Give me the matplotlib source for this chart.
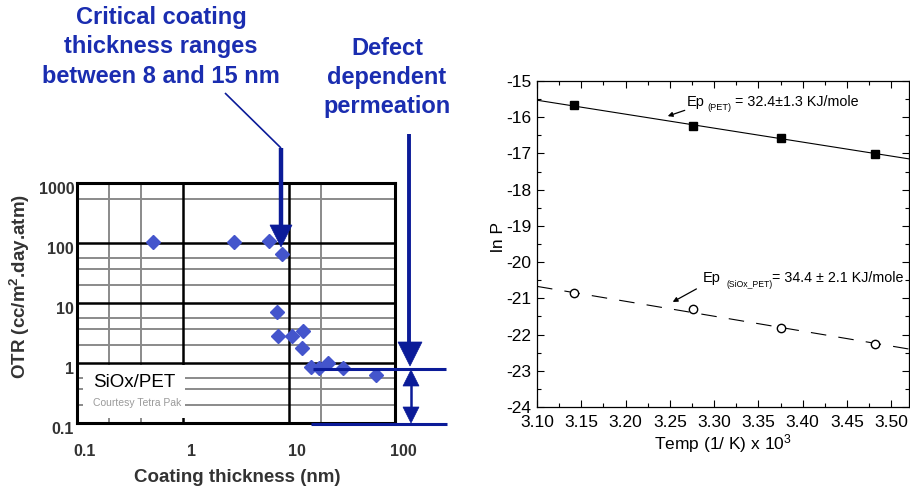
#!/usr/bin/env python3
"""OTR vs coating thickness (links) und Arrhenius-Plot ln P (rechts)."""

import matplotlib
matplotlib.use("Agg")
import matplotlib.pyplot as plt
import matplotlib.transforms as mtransforms
from matplotlib.lines import Line2D
from matplotlib.patches import Polygon, Rectangle
from matplotlib.ticker import MultipleLocator, NullLocator

plt.rcParams["font.family"] = ["Liberation Sans", "DejaVu Sans"]
plt.rcParams["axes.unicode_minus"] = False
plt.rcParams["mathtext.fontset"] = "custom"
plt.rcParams["mathtext.rm"] = "Liberation Sans"
plt.rcParams["mathtext.it"] = "Liberation Sans:italic"
plt.rcParams["mathtext.bf"] = "Liberation Sans:bold"

# ── data ──────────────────────────────────────────────────────────────────────
thickness_nm = [0.52, 3.0, 6.5, 8.5, 7.7, 7.8, 10.7, 13.5, 13.3, 16.1, 19.2, 23.3, 32, 66]
otr = [105, 105, 107, 65, 7.2, 2.8, 2.8, 3.4, 1.8, 0.87, 0.84, 1.0, 0.84, 0.63]

otr_xticks = [0.1, 1, 10, 100]
otr_xlabels = ["0.1", "1", "10", "100"]
otr_yticks = [0.1, 1, 10, 100, 1000]
otr_ylabels = ["0.1", "1", "10", "100", "1000"]
grid_major_x = [1, 10]
grid_major_y = [1, 10, 100]
grid_minor_x = [0.2, 0.4, 20]
grid_minor_y = [0.2, 0.37, 0.56, 2, 3.7, 5.6, 20, 37, 56, 550]

inv_temp = [3.142, 3.276, 3.376, 3.482]
lnp_pet = [-15.67, -16.25, -16.58, -17.02]
lnp_siox = [-20.86, -21.30, -21.82, -22.26]
fit_x = [3.10, 3.52]
fit_pet = [-15.53, -17.15]
fit_siox = [-20.67, -22.40]

temp_xticks = [3.10, 3.15, 3.20, 3.25, 3.30, 3.35, 3.40, 3.45, 3.50]

# ── styles ────────────────────────────────────────────────────────────────────
W, H = 910, 492
NAVY = "#0b1b98"
TEXT_BLUE = "#1a2db0"
DIAMOND = "#4455cc"
DARK = "#333333"


def fx(x):
    return x / W


def fy(y):
    return 1 - y / H


fig = plt.figure(figsize=(W / 100, H / 100), dpi=100)

# ── linker Plot: OTR ──────────────────────────────────────────────────────────
ax1 = fig.add_axes([fx(77), fy(423), 318 / W, 240 / H])
ax1.set_xscale("log")
ax1.set_yscale("log")
ax1.set_xlim(0.1, 100)
ax1.set_ylim(0.1, 1000)

for v in grid_minor_x:
    ax1.axvline(v, color="#8a8a8a", lw=1.4, zorder=1)
for v in grid_minor_y:
    ax1.axhline(v, color="#8a8a8a", lw=1.4, zorder=1)
for v in grid_major_x:
    ax1.axvline(v, color="black", lw=1.8, zorder=1.5)
for v in grid_major_y:
    ax1.axhline(v, color="black", lw=1.8, zorder=1.5)

ax1.add_patch(Rectangle((0.019, 0.02), 0.32, 0.22, transform=ax1.transAxes,
                        facecolor="white", edgecolor="none", zorder=2))
ax1.text(0.05, 0.17, "SiOx/PET", transform=ax1.transAxes, fontsize=13.5,
         va="center", ha="left", zorder=3)
ax1.text(0.05, 0.085, "Courtesy Tetra Pak", transform=ax1.transAxes, fontsize=7.5,
         color="#9a9a9a", va="center", ha="left", zorder=3)

ax1.plot(thickness_nm, otr, "D", color=DIAMOND, ms=7, mec=DIAMOND, zorder=4)

ax1.set_xticks(otr_xticks)
ax1.set_xticklabels(otr_xlabels)
ax1.set_yticks(otr_yticks)
ax1.set_yticklabels(otr_ylabels)
ax1.xaxis.set_minor_locator(NullLocator())
ax1.yaxis.set_minor_locator(NullLocator())
ax1.tick_params(length=0, labelsize=11.5, labelcolor=DARK)
ax1.tick_params(axis="x", pad=15)
ax1.tick_params(axis="y", pad=2)
dx = mtransforms.ScaledTranslation(0.08, 0, fig.dpi_scale_trans)
dy = mtransforms.ScaledTranslation(0, -0.05, fig.dpi_scale_trans)
for lab in ax1.get_xticklabels():
    lab.set_fontweight("bold")
    lab.set_transform(lab.get_transform() + dx)
for lab in ax1.get_yticklabels():
    lab.set_fontweight("bold")
    lab.set_transform(lab.get_transform() + dy)
for sp in ax1.spines.values():
    sp.set_linewidth(2.2)
    sp.set_zorder(5)

fig.text(fx(20), fy(286), r"OTR (cc/m$^\mathbf{2}$.day.atm)", rotation=90,
         fontsize=13.5, fontweight="bold", color=DARK, ha="center", va="center")
fig.text(fx(237), fy(477), "Coating thickness (nm)", fontsize=13.5,
         fontweight="bold", color=DARK, ha="center", va="center")

# blaue Beschriftungen
fig.text(fx(161), fy(47), "Critical coating\nthickness ranges\nbetween 8 and 15 nm",
         fontsize=17, fontweight="bold", color=TEXT_BLUE, ha="center", va="center",
         linespacing=1.34)
fig.text(fx(387), fy(77.5), "Defect\ndependent\npermeation",
         fontsize=17, fontweight="bold", color=TEXT_BLUE, ha="center", va="center",
         linespacing=1.34)


def fig_line(xs, ys, lw):
    fig.add_artist(Line2D([fx(x) for x in xs], [fy(y) for y in ys],
                          transform=fig.transFigure, color=NAVY, lw=lw,
                          solid_capstyle="butt"))


def fig_head(tip_x, tip_y, base_y, half_w):
    pts = [(fx(tip_x), fy(tip_y)), (fx(tip_x - half_w), fy(base_y)),
           (fx(tip_x + half_w), fy(base_y))]
    fig.add_artist(Polygon(pts, closed=True, transform=fig.transFigure,
                           facecolor=NAVY, edgecolor=NAVY, lw=0.5))


# Pfeil kritische Dicke
fig_line([225, 281], [93, 148], 1.2)
fig_line([281, 281], [148, 230], 3.2)
fig_head(281, 247, 225, 11)

# Pfeil Defekt-Permeation
fig_line([409, 409], [134, 345], 2.8)
fig_head(410, 366, 342, 12)
fig_line([313, 446], [369, 369], 2.2)
fig_line([311, 447], [424, 424], 2.2)
fig_line([411, 411], [380, 412], 1.8)
fig_head(411, 370, 386, 8)
fig_head(411, 423, 407, 8)

# ── rechter Plot: Arrhenius ───────────────────────────────────────────────────
ax2 = fig.add_axes([fx(537), fy(407), 372 / W, 326 / H])
ax2.plot(fit_x, fit_pet, color="black", lw=0.8)
ax2.plot(inv_temp, lnp_pet, "s", color="black", ms=6)
ax2.plot(fit_x, fit_siox, color="black", lw=0.8, ls=(0, (14, 11)))
ax2.plot(inv_temp, lnp_siox, "o", mfc="white", mec="black", mew=1.0, ms=6)

ax2.set_xlim(3.10, 3.52)
ax2.set_ylim(-24, -15)
ax2.set_xticks(temp_xticks)
ax2.set_xticklabels([f"{v:.2f}" for v in temp_xticks])
ax2.xaxis.set_minor_locator(MultipleLocator(0.025))
ax2.yaxis.set_major_locator(MultipleLocator(1))
ax2.yaxis.set_minor_locator(MultipleLocator(0.5))
ax2.tick_params(which="both", direction="in", top=True, right=True, width=0.8)
ax2.tick_params(which="major", length=5, labelsize=12.5, pad=4)
ax2.tick_params(which="minor", length=3)
ax2.tick_params(axis="x", which="major", pad=6)
for sp in ax2.spines.values():
    sp.set_linewidth(0.9)

ax2.set_xlabel(r"Temp (1/ K) x 10$^{3}$", fontsize=12.5, labelpad=1)
ax2.set_ylabel("ln P", fontsize=12.5)
ax2.yaxis.set_label_coords(-0.082, 0.52)

arrow_kw = dict(arrowstyle="-|>", color="black", lw=0.9, mutation_scale=7,
                shrinkA=0, shrinkB=0)
ax2.annotate("", xy=(3.2476, -15.97), xytext=(3.2668, -15.81), arrowprops=arrow_kw)
ax2.text(3.269, -15.69, "Ep", fontsize=10.5, va="baseline", ha="left")
ax2.text(3.2927, -15.80, "(PET)", fontsize=6.6, va="baseline", ha="left")
ax2.text(3.3231, -15.69, "= 32.4±1.3 KJ/mole", fontsize=10.3, va="baseline", ha="left")

ax2.annotate("", xy=(3.2532, -21.10), xytext=(3.280, -20.74), arrowprops=arrow_kw)
ax2.text(3.287, -20.56, "Ep", fontsize=10.5, va="baseline", ha="left")
ax2.text(3.314, -20.68, "(SiOx_PET)", fontsize=6.2, va="baseline", ha="left")
ax2.text(3.3655, -20.56, "= 34.4 ± 2.1 KJ/mole", fontsize=10.3, va="baseline", ha="left")

fig.savefig("out.png", dpi=100)
plt.close(fig)
print("Saved: out.png")
